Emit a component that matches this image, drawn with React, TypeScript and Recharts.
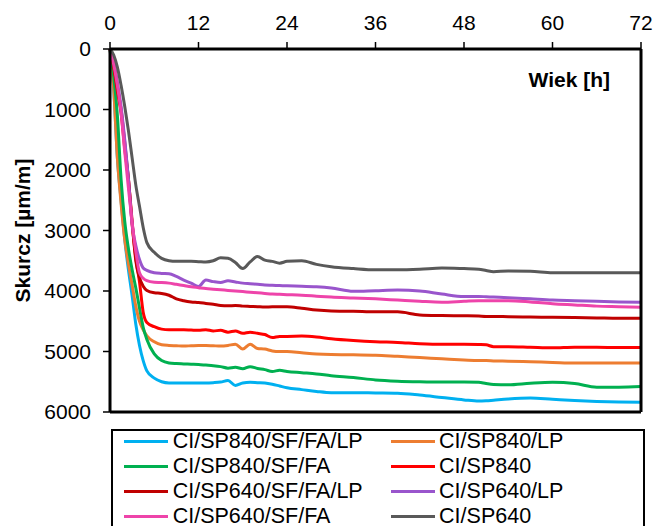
import React from "react";
import { LineChart, Line, XAxis, YAxis, ReferenceLine } from "recharts";

// czas [h]
const hours = [
  0, 0.5, 1, 1.5, 2, 2.5, 3, 3.5, 4, 4.5, 5, 6, 7, 8, 9, 10, 11, 12, 13, 14,
  15, 16, 17, 18, 19, 20, 21, 22, 23, 24, 26, 28, 30, 33, 36, 39, 42, 45, 48,
  50, 51, 52, 54, 57, 60, 63, 66, 69, 72,
];

const ciSp840SfFaLp = [
  0, 650, 1800, 2500, 3150, 3650, 4080, 4550, 4900, 5150, 5320, 5440, 5500,
  5520, 5520, 5520, 5520, 5520, 5520, 5515, 5505, 5480, 5560, 5520, 5510, 5515,
  5520, 5540, 5570, 5600, 5630, 5660, 5680, 5680, 5685, 5690, 5720, 5760, 5800,
  5820, 5815, 5805, 5785, 5770, 5790, 5810, 5825, 5835, 5840,
];
const ciSp840Lp = [
  0, 650, 1800, 2550, 3150, 3550, 3900, 4250, 4500, 4640, 4740, 4840, 4890,
  4900, 4905, 4910, 4905, 4900, 4900, 4905, 4910, 4900, 4880, 4960, 4880, 4950,
  4960, 4990, 5000, 5000, 5020, 5040, 5050, 5055, 5060, 5080, 5100, 5120, 5140,
  5150, 5150, 5155, 5160, 5170, 5180, 5190, 5190, 5190, 5190,
];
const ciSp840SfFa = [
  0, 450, 1100, 2150, 2850, 3300, 3650, 3950, 4280, 4600, 4800, 5040, 5150,
  5190, 5200, 5205, 5210, 5215, 5225, 5235, 5250, 5275, 5260, 5285, 5250, 5280,
  5300, 5330, 5310, 5330, 5350, 5370, 5400, 5430, 5470, 5490, 5500, 5505, 5505,
  5510, 5530, 5545, 5550, 5525, 5510, 5530, 5590, 5590, 5580,
];
const ciSp840 = [
  0, 300, 700, 1050, 1650, 2150, 2900, 3450, 3850, 4350, 4520, 4590, 4630,
  4640, 4640, 4640, 4645, 4650, 4640, 4660, 4650, 4680, 4660, 4700, 4680, 4700,
  4720, 4770, 4750, 4750, 4745, 4760, 4790, 4820, 4840, 4850, 4870, 4880, 4880,
  4885, 4890, 4920, 4920, 4930, 4940, 4930, 4930, 4935, 4935,
];
const ciSp640SfFaLp = [
  0, 280, 650, 1000, 1550, 2150, 2850, 3500, 3780, 3920, 3990, 4030, 4040,
  4070, 4130, 4160, 4180, 4190, 4205, 4220, 4240, 4245, 4240, 4250, 4255, 4260,
  4265, 4260, 4260, 4260, 4285, 4315, 4330, 4335, 4345, 4345, 4395, 4405, 4410,
  4415, 4420, 4420, 4425, 4430, 4435, 4440, 4445, 4450, 4450,
];
const ciSp640Lp = [
  0, 200, 550, 950, 1500, 2150, 2900, 3250, 3480, 3620, 3660, 3700, 3710,
  3715, 3760, 3820, 3870, 3925, 3820, 3845, 3860, 3830, 3850, 3870, 3880, 3890,
  3900, 3905, 3910, 3915, 3920, 3930, 3950, 4005, 3995, 3985, 4000, 4050, 4090,
  4090, 4095, 4100, 4110, 4130, 4150, 4160, 4170, 4180, 4185,
];
const ciSp640SfFa = [
  0, 250, 600, 1050, 1700, 2300, 2870, 3350, 3700, 3790, 3830, 3855, 3860,
  3870, 3890, 3910, 3930, 3945, 3960, 3970, 3980, 3990, 4000, 4010, 4020, 4030,
  4040, 4050, 4055, 4060, 4070, 4085, 4100, 4115, 4130, 4150, 4170, 4185, 4170,
  4160, 4160, 4160, 4160, 4180, 4210, 4230, 4250, 4260, 4270,
];
const ciSp640 = [
  0, 100, 300, 600, 950, 1350, 1800, 2250, 2600, 2950, 3200, 3360, 3460, 3500,
  3510, 3510, 3510, 3515, 3520, 3500, 3450, 3460, 3530, 3630, 3520, 3430, 3490,
  3510, 3540, 3510, 3500, 3560, 3600, 3630, 3650, 3650, 3640, 3620, 3630, 3640,
  3660, 3680, 3670, 3675, 3700, 3700, 3700, 3700, 3700,
];

const xTicks = [0, 12, 24, 36, 48, 60, 72];
const yTicks = [0, 1000, 2000, 3000, 4000, 5000, 6000];

const series = [
  { id: "s1", name: "CI/SP840/SF/FA/LP", values: ciSp840SfFaLp, color: "#00B0F0" },
  { id: "s2", name: "CI/SP840/LP", values: ciSp840Lp, color: "#ED7D31" },
  { id: "s3", name: "CI/SP840/SF/FA", values: ciSp840SfFa, color: "#00B050" },
  { id: "s4", name: "CI/SP840", values: ciSp840, color: "#FF0000" },
  { id: "s5", name: "CI/SP640/SF/FA/LP", values: ciSp640SfFaLp, color: "#C00000" },
  { id: "s6", name: "CI/SP640/LP", values: ciSp640Lp, color: "#9955CC" },
  { id: "s7", name: "CI/SP640/SF/FA", values: ciSp640SfFa, color: "#EE44AA" },
  { id: "s8", name: "CI/SP640", values: ciSp640, color: "#595959" },
];

const data = hours.map((h, i) => {
  const row: any = { h };
  series.forEach((s) => {
    row[s.id] = s.values[i];
  });
  return row;
});

const font = "'Liberation Sans', Arial, sans-serif";

export default function App() {
  return (
    <div
      style={{
        position: "fixed",
        left: 0,
        top: 0,
        width: 654,
        height: 526,
        overflow: "hidden",
        background: "#fff",
        fontFamily: font,
      }}
    >
      <LineChart
        width={654}
        height={526}
        data={data}
        margin={{ top: 9, right: 13, left: 10, bottom: 114 }}
        style={{ fontFamily: font }}
      >
        <XAxis
          dataKey="h"
          type="number"
          orientation="top"
          domain={[0, 72]}
          ticks={xTicks}
          height={40}
          tickSize={7}
          tickMargin={12}
          axisLine={{ stroke: "#000", strokeWidth: 3 }}
          tickLine={{ stroke: "#000", strokeWidth: 1.5 }}
          tick={{ fill: "#000", fontSize: 21 }}
        />
        <YAxis
          type="number"
          domain={[0, 6000]}
          reversed
          ticks={yTicks}
          interval={0}
          width={100}
          tickSize={7}
          tickMargin={12}
          axisLine={{ stroke: "#000", strokeWidth: 3 }}
          tickLine={{ stroke: "#000", strokeWidth: 1.5 }}
          tick={{ fill: "#000", fontSize: 21 }}
          label={{
            value: "Skurcz [µm/m]",
            angle: -90,
            position: "insideLeft",
            offset: 13,
            style: { textAnchor: "middle", fontWeight: "bold", fontSize: 21, fill: "#000" },
          }}
        />
        {series.map((s) => (
          <Line
            key={s.id}
            type="monotone"
            dataKey={s.id}
            name={s.name}
            stroke={s.color}
            strokeWidth={3}
            dot={false}
            activeDot={false}
            isAnimationActive={false}
          />
        ))}
        <ReferenceLine x={72} stroke="#000" strokeWidth={3} />
        <ReferenceLine y={6000} stroke="#000" strokeWidth={3} />
      </LineChart>

      <div
        style={{
          position: "absolute",
          right: 44,
          top: 69,
          fontSize: 21,
          lineHeight: "21px",
          fontWeight: "bold",
          color: "#000",
        }}
      >
        Wiek [h]
      </div>

      <div
        style={{
          position: "absolute",
          left: 111,
          top: 429,
          width: 534,
          height: 120,
          boxSizing: "border-box",
          border: "2px solid #000",
        }}
      >
        {series.map((s, i) => {
          const col = i % 2;
          const row = Math.floor(i / 2);
          return (
            <div
              key={s.id}
              style={{
                position: "absolute",
                left: (col ? 390.7 : 124.3) - 113,
                top: 441.7 + row * 25 - 12.5 - 431,
                height: 25,
                display: "flex",
                alignItems: "center",
                whiteSpace: "nowrap",
              }}
            >
              <span
                style={{
                  display: "inline-block",
                  width: 44,
                  height: 3,
                  background: s.color,
                  marginRight: 4.4,
                }}
              />
              <span style={{ fontSize: 21.5, lineHeight: "25px", color: "#000" }}>
                {s.name}
              </span>
            </div>
          );
        })}
      </div>
    </div>
  );
}
